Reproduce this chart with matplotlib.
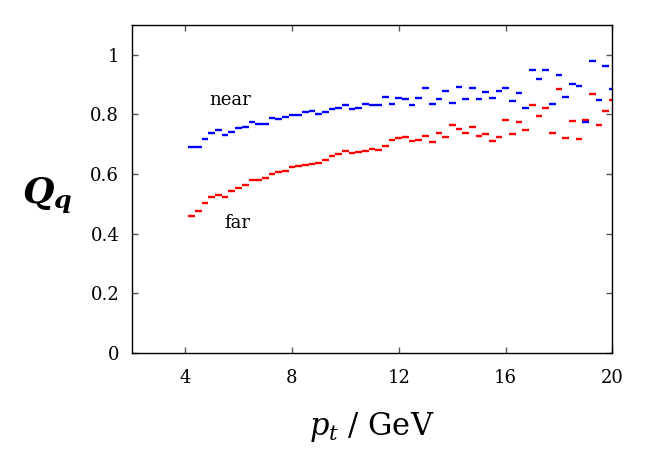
import numpy as np
import matplotlib
matplotlib.use("Agg")
import matplotlib.pyplot as plt

plt.rcParams['font.family'] = ['DejaVu Serif']
plt.rcParams['mathtext.fontset'] = 'dejavuserif'

# bin centres in p_t (GeV), bin width 0.25
pt = np.arange(4.25, 20.01, 0.25)
bin_width = 0.25

near = [0.691, 0.691, 0.716, 0.736, 0.746, 0.732, 0.742, 0.754, 0.759, 0.774,
        0.769, 0.769, 0.787, 0.786, 0.790, 0.798, 0.798, 0.807, 0.813, 0.800,
        0.809, 0.817, 0.823, 0.832, 0.817, 0.820, 0.835, 0.833, 0.833, 0.859,
        0.834, 0.855, 0.851, 0.830, 0.856, 0.888, 0.835, 0.851, 0.880, 0.838,
        0.892, 0.853, 0.888, 0.853, 0.874, 0.854, 0.878, 0.889, 0.846, 0.871,
        0.822, 0.948, 0.919, 0.948, 0.836, 0.931, 0.859, 0.903, 0.894, 0.773,
        0.978, 0.848, 0.961, 0.886]

far = [0.458, 0.474, 0.503, 0.523, 0.531, 0.521, 0.542, 0.553, 0.563, 0.579,
       0.579, 0.585, 0.600, 0.605, 0.609, 0.623, 0.627, 0.630, 0.633, 0.636,
       0.646, 0.661, 0.667, 0.676, 0.669, 0.674, 0.676, 0.684, 0.679, 0.694,
       0.715, 0.721, 0.723, 0.712, 0.714, 0.728, 0.708, 0.738, 0.723, 0.765,
       0.752, 0.736, 0.758, 0.726, 0.733, 0.709, 0.723, 0.780, 0.735, 0.774,
       0.746, 0.831, 0.793, 0.821, 0.738, 0.884, 0.721, 0.778, 0.717, 0.782,
       0.869, 0.763, 0.813, 0.848]

xticks = [4, 8, 12, 16, 20]
yticks = [0, 0.2, 0.4, 0.6, 0.8, 1]
ytick_labels = ['0', '0.2', '0.4', '0.6', '0.8', '1']

fig = plt.figure(figsize=(6.65, 4.53), dpi=100)
ax = fig.add_axes([0.198, 0.2214, 0.723, 0.7234])

ax.hlines(far, pt - bin_width / 2, pt + bin_width / 2, colors='#ff0000', lw=1.7)
ax.hlines(near, pt - bin_width / 2, pt + bin_width / 2, colors='#0000ff', lw=1.7)

ax.text(5.7, 0.847, 'near', fontsize=13, ha='center', va='center')
ax.text(5.95, 0.437, 'far', fontsize=13, ha='center', va='center')

ax.set_xlim(2, 20)
ax.set_ylim(0, 1.1)
ax.set_xticks(xticks)
ax.set_yticks(yticks)
ax.set_yticklabels(ytick_labels)
ax.tick_params(direction='in', length=4, width=1, top=True, right=True,
               labelsize=13, color='#555555')
ax.tick_params(axis='x', pad=12)
ax.tick_params(axis='y', pad=9)
for s in ax.spines.values():
    s.set_linewidth(1.0)

ax.set_xlabel(r'$p_t$ / GeV', fontsize=22, labelpad=16)
ax.set_ylabel(r'$\mathbfit{Q}_{\mathbfit{q}}$', fontsize=26, rotation=0,
              ha='center', va='center')
ax.yaxis.set_label_coords(-0.176, 0.48)

fig.savefig('out.png', dpi=100)
